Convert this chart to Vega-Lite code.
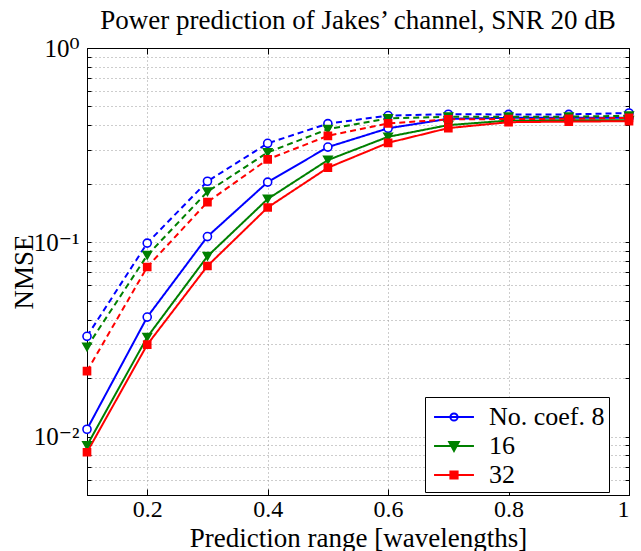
{
  "$schema": "https://vega.github.io/schema/vega-lite/v6.json",
  "autosize": {"type": "none"},
  "width": 542,
  "height": 447,
  "padding": {"left": 87, "top": 48, "right": 12, "bottom": 56},
  "background": "white",
  "title": {
    "text": "Power prediction of Jakes’ channel, SNR 20 dB",
    "font": "Liberation Serif, Times New Roman, DejaVu Serif, serif",
    "fontSize": 27,
    "fontWeight": "normal",
    "color": "black",
    "anchor": "middle",
    "frame": "group",
    "baseline": "alphabetic",
    "offset": -20
  },
  "data": {
    "values": [
      {"series": "No. coef. 8", "style": "dashed", "x": 0.1, "y": 0.0328},
      {"series": "No. coef. 8", "style": "dashed", "x": 0.2, "y": 0.099},
      {"series": "No. coef. 8", "style": "dashed", "x": 0.3, "y": 0.206},
      {"series": "No. coef. 8", "style": "dashed", "x": 0.4, "y": 0.323},
      {"series": "No. coef. 8", "style": "dashed", "x": 0.5, "y": 0.408},
      {"series": "No. coef. 8", "style": "dashed", "x": 0.6, "y": 0.449},
      {"series": "No. coef. 8", "style": "dashed", "x": 0.7, "y": 0.456},
      {"series": "No. coef. 8", "style": "dashed", "x": 0.8, "y": 0.455},
      {"series": "No. coef. 8", "style": "dashed", "x": 0.9, "y": 0.455},
      {"series": "No. coef. 8", "style": "dashed", "x": 1.0, "y": 0.463},
      {"series": "No. coef. 8", "style": "solid", "x": 0.1, "y": 0.0109},
      {"series": "No. coef. 8", "style": "solid", "x": 0.2, "y": 0.0412},
      {"series": "No. coef. 8", "style": "solid", "x": 0.3, "y": 0.107},
      {"series": "No. coef. 8", "style": "solid", "x": 0.4, "y": 0.204},
      {"series": "No. coef. 8", "style": "solid", "x": 0.5, "y": 0.309},
      {"series": "No. coef. 8", "style": "solid", "x": 0.6, "y": 0.386},
      {"series": "No. coef. 8", "style": "solid", "x": 0.7, "y": 0.432},
      {"series": "No. coef. 8", "style": "solid", "x": 0.8, "y": 0.437},
      {"series": "No. coef. 8", "style": "solid", "x": 0.9, "y": 0.437},
      {"series": "No. coef. 8", "style": "solid", "x": 1.0, "y": 0.437},
      {"series": "16", "style": "dashed", "x": 0.1, "y": 0.0289},
      {"series": "16", "style": "dashed", "x": 0.2, "y": 0.0857},
      {"series": "16", "style": "dashed", "x": 0.3, "y": 0.182},
      {"series": "16", "style": "dashed", "x": 0.4, "y": 0.290},
      {"series": "16", "style": "dashed", "x": 0.5, "y": 0.382},
      {"series": "16", "style": "dashed", "x": 0.6, "y": 0.434},
      {"series": "16", "style": "dashed", "x": 0.7, "y": 0.443},
      {"series": "16", "style": "dashed", "x": 0.8, "y": 0.443},
      {"series": "16", "style": "dashed", "x": 0.9, "y": 0.443},
      {"series": "16", "style": "dashed", "x": 1.0, "y": 0.448},
      {"series": "16", "style": "solid", "x": 0.1, "y": 0.0090},
      {"series": "16", "style": "solid", "x": 0.2, "y": 0.0325},
      {"series": "16", "style": "solid", "x": 0.3, "y": 0.0847},
      {"series": "16", "style": "solid", "x": 0.4, "y": 0.167},
      {"series": "16", "style": "solid", "x": 0.5, "y": 0.265},
      {"series": "16", "style": "solid", "x": 0.6, "y": 0.349},
      {"series": "16", "style": "solid", "x": 0.7, "y": 0.401},
      {"series": "16", "style": "solid", "x": 0.8, "y": 0.423},
      {"series": "16", "style": "solid", "x": 0.9, "y": 0.425},
      {"series": "16", "style": "solid", "x": 1.0, "y": 0.425},
      {"series": "32", "style": "dashed", "x": 0.1, "y": 0.0217},
      {"series": "32", "style": "dashed", "x": 0.2, "y": 0.0746},
      {"series": "32", "style": "dashed", "x": 0.3, "y": 0.161},
      {"series": "32", "style": "dashed", "x": 0.4, "y": 0.267},
      {"series": "32", "style": "dashed", "x": 0.5, "y": 0.353},
      {"series": "32", "style": "dashed", "x": 0.6, "y": 0.409},
      {"series": "32", "style": "dashed", "x": 0.7, "y": 0.429},
      {"series": "32", "style": "dashed", "x": 0.8, "y": 0.431},
      {"series": "32", "style": "dashed", "x": 0.9, "y": 0.432},
      {"series": "32", "style": "dashed", "x": 1.0, "y": 0.437},
      {"series": "32", "style": "solid", "x": 0.1, "y": 0.0083},
      {"series": "32", "style": "solid", "x": 0.2, "y": 0.0297},
      {"series": "32", "style": "solid", "x": 0.3, "y": 0.0755},
      {"series": "32", "style": "solid", "x": 0.4, "y": 0.151},
      {"series": "32", "style": "solid", "x": 0.5, "y": 0.242},
      {"series": "32", "style": "solid", "x": 0.6, "y": 0.325},
      {"series": "32", "style": "solid", "x": 0.7, "y": 0.387},
      {"series": "32", "style": "solid", "x": 0.8, "y": 0.415},
      {"series": "32", "style": "solid", "x": 0.9, "y": 0.418},
      {"series": "32", "style": "solid", "x": 1.0, "y": 0.420}
    ]
  },
  "layer": [
    {
      "mark": {"type": "line", "strokeWidth": 2},
      "encoding": {
        "x": {
          "field": "x", "type": "quantitative",
          "scale": {"domain": [0.1, 1], "nice": false, "zero": false},
          "axis": {
            "orient": "bottom",
            "title": "Prediction range [wavelengths]",
            "values": [0.2, 0.4, 0.6, 0.8, 1],
            "labelExpr": "datum.value > 0.99 ? '1' : format(datum.value, '.1f')",
            "grid": true,
            "tickSize": -6,
            "labelPadding": 8,
            "labelFontSize": 24,
            "titleY": 51,
            "titleBaseline": "alphabetic"
          }
        },
        "y": {
          "field": "y", "type": "quantitative",
          "scale": {"type": "log", "domain": [0.005, 1], "nice": false},
          "axis": {
            "orient": "left",
            "title": "NMSE",
            "values": [0.005, 0.006, 0.007, 0.008, 0.009, 0.01, 0.02, 0.03, 0.04, 0.05, 0.06, 0.07, 0.08, 0.09, 0.1, 0.2, 0.3, 0.4, 0.5, 0.6, 0.7, 0.8, 0.9, 1],
            "labelExpr": "datum.value > 0.99 ? '10⁰' : abs(datum.value - 0.1) < 1e-9 ? '10⁻¹' : abs(datum.value - 0.01) < 1e-9 ? '10⁻²' : ''",
            "labelOverlap": false,
            "grid": true,
            "tickSize": -4,
            "labelPadding": 12,
            "titleX": -55,
            "titleBaseline": "alphabetic",
            "titleAngle": -90
          }
        },
        "color": {
          "field": "series", "type": "nominal",
          "scale": {"domain": ["No. coef. 8", "16", "32"], "range": ["#0000ff", "#008000", "#ff0000"]},
          "legend": {
            "title": null,
            "orient": "none",
            "legendX": 338,
            "legendY": 349,
            "strokeColor": "black",
            "fillColor": "white",
            "padding": 4,
            "labelFontSize": 26,
            "labelColor": "black",
            "labelOffset": 19,
            "labelExpr": "datum.label == 'No. coef. 8' ? datum.label + '\u00a0\u00a0' : datum.label",
            "rowPadding": -3,
            "symbolOffset": 9,
            "symbolSize": 900,
            "symbolStrokeWidth": 2,
            "symbolType": "M-1.33,0H1.33",
            "encode": {
              "symbols": {
                "update": {
                  "shape": {"signal": "datum.value == 'No. coef. 8' ? 'M-1.33,0H1.33M0.24,0A0.24,0.24 0 1,1 -0.24,0A0.24,0.24 0 1,1 0.24,0' : datum.value == '16' ? 'M-1.33,0H1.33M-0.32,-0.27L0.32,-0.27L0,0.32Z' : 'M-1.33,0H1.33M-0.24,-0.24H0.24V0.24H-0.24Z'"},
                  "fill": {"signal": "datum.value == 'No. coef. 8' ? 'white' : datum.value == '16' ? '#008000' : '#ff0000'"}
                }
              }
            }
          }
        },
        "strokeDash": {
          "field": "style", "type": "nominal",
          "scale": {"domain": ["solid", "dashed"], "range": [[1, 0], [6, 4]]},
          "legend": null
        }
      }
    },
    {
      "transform": [{"filter": "datum.series == 'No. coef. 8'"}],
      "mark": {"type": "point", "shape": "circle", "size": 65, "strokeWidth": 1.6, "stroke": "#0000ff", "fill": "white", "filled": true, "opacity": 1},
      "encoding": {
        "x": {
          "field": "x", "type": "quantitative",
          "axis": {
            "orient": "top", "title": null, "labels": false, "grid": false,
            "values": [0.2, 0.4, 0.6, 0.8, 1], "tickSize": -6
          }
        },
        "y": {
          "field": "y", "type": "quantitative",
          "axis": {
            "orient": "right", "title": null, "labels": false, "grid": false,
            "values": [0.005, 0.006, 0.007, 0.008, 0.009, 0.01, 0.02, 0.03, 0.04, 0.05, 0.06, 0.07, 0.08, 0.09, 0.1, 0.2, 0.3, 0.4, 0.5, 0.6, 0.7, 0.8, 0.9, 1],
            "tickSize": -4
          }
        }
      }
    },
    {
      "transform": [{"filter": "datum.series == '16'"}],
      "mark": {"type": "point", "shape": "triangle-down", "size": 70, "strokeWidth": 1.6, "stroke": "#008000", "fill": "#008000", "filled": true, "opacity": 1},
      "encoding": {
        "x": {"field": "x", "type": "quantitative", "axis": null},
        "y": {"field": "y", "type": "quantitative", "axis": null}
      }
    },
    {
      "transform": [{"filter": "datum.series == '32'"}],
      "mark": {"type": "point", "shape": "square", "size": 50, "strokeWidth": 1.6, "stroke": "#ff0000", "fill": "#ff0000", "filled": true, "opacity": 1},
      "encoding": {
        "x": {"field": "x", "type": "quantitative", "axis": null},
        "y": {"field": "y", "type": "quantitative", "axis": null}
      }
    }
  ],
  "resolve": {"axis": {"x": "independent", "y": "independent"}},
  "config": {
    "font": "Liberation Serif, Times New Roman, DejaVu Serif, serif",
    "view": {"stroke": "black", "strokeWidth": 1},
    "axis": {
      "domain": true,
      "domainColor": "black",
      "domainWidth": 1,
      "tickColor": "black",
      "labelFont": "Liberation Serif, Times New Roman, DejaVu Serif, serif",
      "labelFontSize": 25,
      "labelColor": "black",
      "titleFont": "Liberation Serif, Times New Roman, DejaVu Serif, serif",
      "titleFontSize": 27,
      "titleFontWeight": "normal",
      "titleColor": "black",
      "gridColor": "#9a9a9a",
      "gridDash": [1, 3],
      "gridWidth": 1
    },
    "legend": {
      "labelFont": "Liberation Serif, Times New Roman, DejaVu Serif, serif"
    }
  }
}
